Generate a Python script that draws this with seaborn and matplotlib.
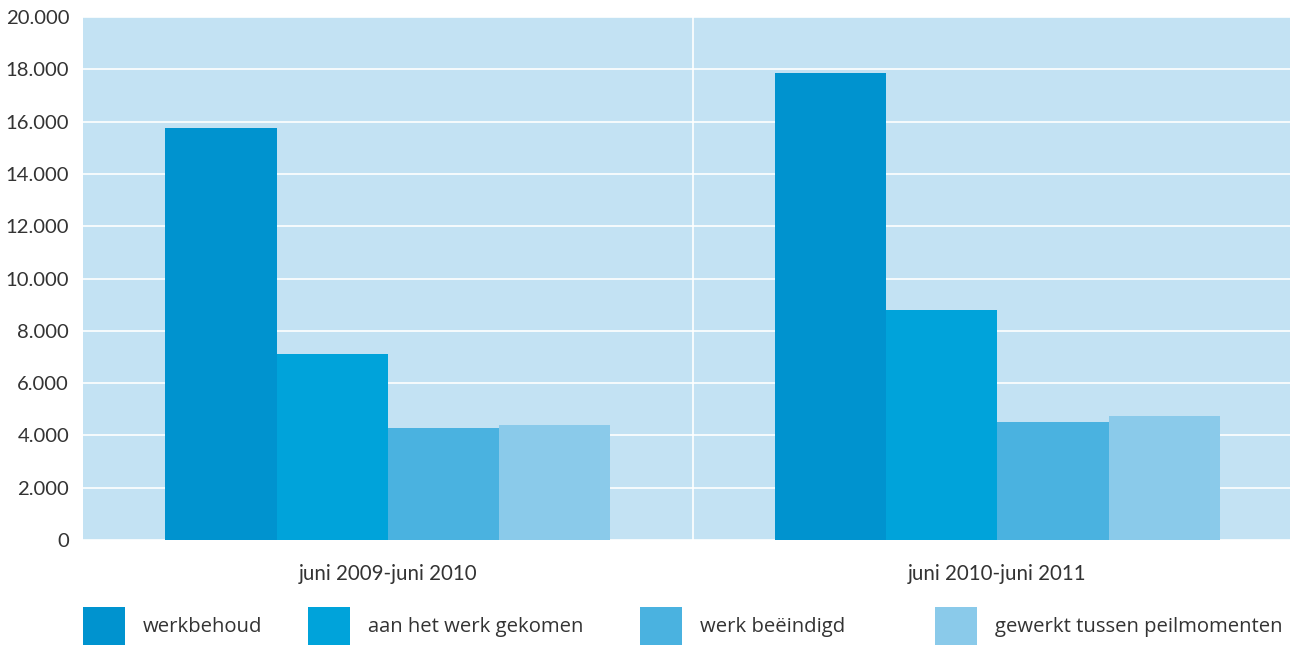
import matplotlib
matplotlib.use("Agg")
import matplotlib.pyplot as plt
import seaborn as sns
import pandas as pd
from matplotlib.ticker import FuncFormatter, MultipleLocator
from matplotlib.patches import Patch

periods = ["juni 2009-juni 2010", "juni 2010-juni 2011"]
series = ["werkbehoud", "aan het werk gekomen", "werk beëindigd", "gewerkt tussen peilmomenten"]
werkbehoud = [15750, 17850]
aan_het_werk = [7100, 8800]
werk_beeindigd = [4300, 4500]
gewerkt_tussen = [4400, 4750]
colors = ["#0093CF", "#00A3DA", "#4AB2E0", "#8ACAEA"]

values = [werkbehoud, aan_het_werk, werk_beeindigd, gewerkt_tussen]
rows = []
for s, vals in zip(series, values):
    for p, v in zip(periods, vals):
        rows.append({"periode": p, "reeks": s, "aantal": v})
df = pd.DataFrame(rows)

sns.set_theme(style="white")
plt.rcParams["font.family"] = ["Lato", "DejaVu Sans"]

fig = plt.figure(figsize=(12.95, 6.45), dpi=100)
ax = fig.add_axes([83/1295, 1-540/645, (1290-83)/1295, (540-17)/645])
ax.set_facecolor("#C3E2F3")

sns.barplot(data=df, x="periode", y="aantal", hue="reeks", hue_order=series,
            palette=colors, saturation=1, width=0.73, ax=ax, legend=False,
            edgecolor="none", linewidth=0, zorder=3)

ax.set_xlim(-0.5, 1.48)
ax.set_ylim(0, 20000)
ax.yaxis.set_major_locator(MultipleLocator(2000))
ax.yaxis.set_major_formatter(FuncFormatter(lambda v, p: f"{v:,.0f}".replace(",", ".")))
ax.grid(axis="y", color="white", linewidth=1.2, zorder=1)
ax.set_axisbelow(True)
ax.axvline(0.5, color="white", linewidth=1.2, zorder=1)
for s in ax.spines.values():
    s.set_visible(False)
ax.tick_params(axis="both", length=0, colors="#333333")
ax.tick_params(axis="y", pad=10, labelsize=14.6)
ax.tick_params(axis="x", pad=17, labelsize=14.8)
ax.set_xlabel("")
ax.set_ylabel("")

legend_x = [83, 308, 640, 935]
for s, c, lx in zip(series, colors, legend_x):
    fig.legend(handles=[Patch(facecolor=c, edgecolor="none", label=s)],
               loc="center left", bbox_to_anchor=(lx/1295, 1-626/645),
               frameon=False, prop={"family": ["Open Sans", "DejaVu Sans"], "size": 14.6},
               handlelength=2.07, handleheight=2.45, handletextpad=0.89,
               borderpad=0, borderaxespad=0, labelcolor="#333333")

fig.savefig("out.png", dpi=100)
